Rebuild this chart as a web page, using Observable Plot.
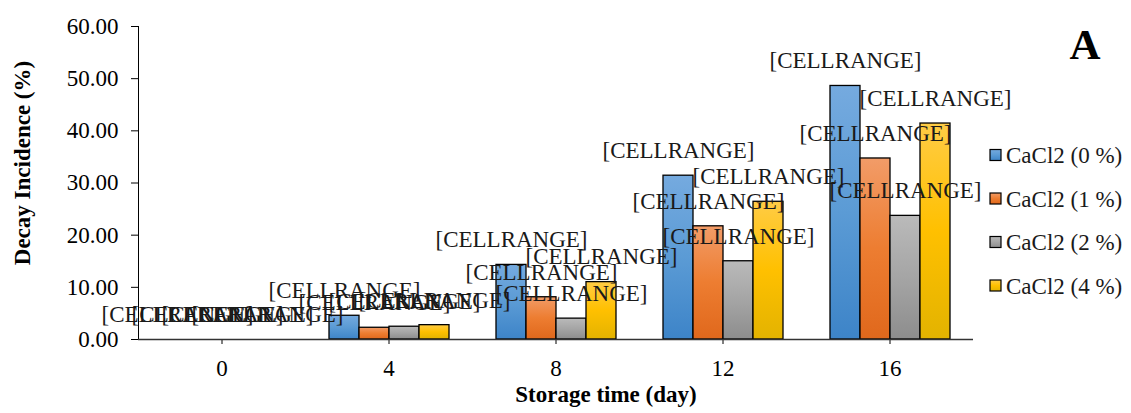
<!DOCTYPE html>
<html>
<head>
<meta charset="utf-8">
<script src="https://cdn.jsdelivr.net/npm/d3@7"></script>
<script src="https://cdn.jsdelivr.net/npm/@observablehq/plot@0.6"></script>
<style>
  html, body { margin: 0; padding: 0; background: #fff; }
  #chart { width: 1131px; height: 413px; }
</style>
</head>
<body>
<div id="chart"></div>
<script>
// Storage days (categories) and CaCl2 treatments (series)
const days = ["0", "4", "8", "12", "16"];
const seriesNames = ["CaCl2 (0 %)", "CaCl2 (1 %)", "CaCl2 (2 %)", "CaCl2 (4 %)"];

// Decay incidence (%) per treatment, one value per storage day
const cacl2_0 = [0, 4.55, 14.3, 31.4, 48.6];
const cacl2_1 = [0, 2.25, 8.1, 21.7, 34.7];
const cacl2_2 = [0, 2.45, 4.0, 15.0, 23.7];
const cacl2_4 = [0, 2.75, 11.0, 26.4, 41.4];

const yTicks = [0, 10, 20, 30, 40, 50, 60];
const labelText = "[CELLRANGE]";
const yTitle = "Decay Incidence (%)";
const xTitle = "Storage time (day)";
const panelTag = "A";

// Gradient stops (top, middle, bottom) for each treatment
const gradients = [
  ["#75aadf", "#5b9bd5", "#3d84c8"],
  ["#f29c68", "#ed7d31", "#e0681c"],
  ["#bababa", "#a5a5a5", "#8d8d8d"],
  ["#ffcc45", "#ffc000", "#e3b300"]
];

const valuesBySeries = [cacl2_0, cacl2_1, cacl2_2, cacl2_4];
const rows = [];
seriesNames.forEach((s, i) => {
  days.forEach((d, j) => rows.push({day: d, series: s, value: valuesBySeries[i][j]}));
});

const serif = "'Liberation Serif', 'Times New Roman', serif";

const chart = Plot.plot({
  width: 1131,
  height: 413,
  marginLeft: 137,
  marginRight: 158,
  marginTop: 26,
  marginBottom: 74,
  style: {fontFamily: serif, fontSize: "23px", color: "#000", background: "#fff", overflow: "visible"},
  fx: {domain: days, padding: 0, label: null, axis: "bottom", tickSize: 5, tickPadding: 15},
  x: {domain: seriesNames, paddingInner: 0, paddingOuter: 0.74, axis: null},
  y: {domain: [0, 60], ticks: yTicks, tickFormat: d => d.toFixed(2), tickSize: 7, tickPadding: 13, label: null, line: true},
  color: {domain: seriesNames, range: seriesNames.map((_, i) => `url(#grad${i})`)},
  marks: [
    Plot.barY(rows, {fx: "day", x: "series", y: "value", fill: "series", stroke: "#000", strokeWidth: 1.3}),
    Plot.ruleY([0], {stroke: "#333", strokeWidth: 1.3}),
    Plot.text(rows, {fx: "day", x: "series", y: "value", text: () => labelText, dy: -25, fill: "#1a1a1a"})
  ]
});

const svg = d3.select(chart);

// Vertical gradients for the bar and legend fills
const defs = svg.insert("defs", ":first-child");
gradients.forEach((stops, i) => {
  const g = defs.append("linearGradient").attr("id", `grad${i}`)
    .attr("x1", 0).attr("y1", 0).attr("x2", 0).attr("y2", 1);
  g.append("stop").attr("offset", "0%").attr("stop-color", stops[0]);
  g.append("stop").attr("offset", "50%").attr("stop-color", stops[1]);
  g.append("stop").attr("offset", "100%").attr("stop-color", stops[2]);
});

// Axis titles and panel tag
svg.append("text")
  .attr("transform", "translate(30,163) rotate(-90)")
  .attr("text-anchor", "middle")
  .attr("font-family", serif).attr("font-weight", "bold").attr("font-size", 23)
  .attr("fill", "#000")
  .text(yTitle);

svg.append("text")
  .attr("x", 606).attr("y", 402)
  .attr("text-anchor", "middle")
  .attr("font-family", serif).attr("font-weight", "bold").attr("font-size", 23)
  .attr("fill", "#000")
  .text(xTitle);

svg.append("text")
  .attr("x", 1085).attr("y", 59)
  .attr("text-anchor", "middle")
  .attr("font-family", serif).attr("font-weight", "bold").attr("font-size", 43)
  .attr("fill", "#000")
  .text(panelTag);

// Legend
const legend = svg.append("g").attr("text-anchor", "start");
seriesNames.forEach((s, i) => {
  const cy = 155 + i * 43.5;
  legend.append("rect")
    .attr("x", 990).attr("y", cy - 5.5).attr("width", 11).attr("height", 11)
    .attr("fill", `url(#grad${i})`).attr("stroke", "#000").attr("stroke-width", 1.2);
  legend.append("text")
    .attr("x", 1006).attr("y", cy).attr("dy", "0.35em")
    .attr("text-anchor", "start")
    .attr("font-family", serif).attr("font-size", 23).attr("fill", "#1a1a1a")
    .text(s);
});

document.getElementById("chart").appendChild(chart);
</script>
</body>
</html>
